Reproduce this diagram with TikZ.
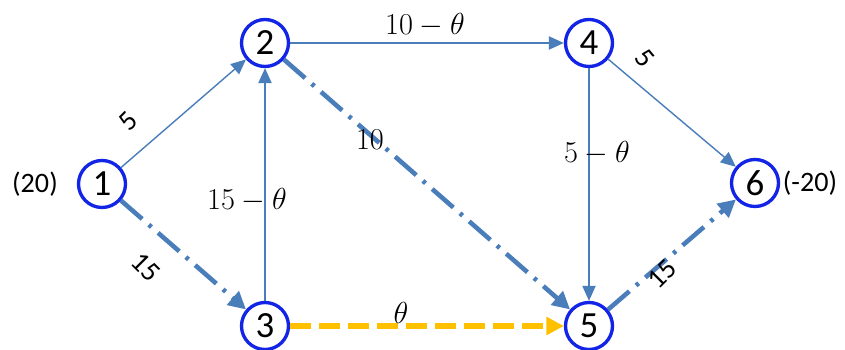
\documentclass[tikz,border=0pt]{standalone}
\usepackage{fontspec}
\setmainfont{Carlito}
\usepackage{xcolor}
\usepackage{tikz}
\usetikzlibrary{arrows.meta}

\definecolor{arcblue}{RGB}{74,126,187}
\definecolor{ringblue}{RGB}{18,36,230}
\definecolor{pivot}{RGB}{255,192,0}

\begin{document}
\begin{tikzpicture}[
  x=0.02cm, y=-0.02cm,
  vertex/.style={circle, draw=ringblue, line width=1.9pt, fill=white,
    minimum size=0.94cm, inner sep=0pt, font=\fontsize{21}{25}\selectfont},
  arc/.style={-{Triangle[length=8.5pt, width=7.5pt]}, line width=0.8pt, draw=arcblue},
  basis/.style={-{Triangle[length=10pt, width=10pt]}, line width=2.6pt, draw=arcblue,
    dash pattern={on 16pt off 5pt on 2pt off 5pt}},
  cycle arc/.style={-{Triangle[length=10pt, width=10pt]}, line width=3.3pt, draw=pivot,
    dash pattern={on 12pt off 4.5pt}},
  supply/.style={font=\fontsize{16}{19}\selectfont},
  flow label/.style={font=\fontsize{16}{19}\selectfont, inner sep=1pt},
  theta label/.style={font=\fontsize{17}{20}\selectfont, inner sep=1pt}
]
\useasboundingbox[fill=white] (0,0) rectangle (845,350);

\node[vertex] (n1) at (102,184) {1};
\node[vertex] (n2) at (265,43) {2};
\node[vertex] (n3) at (265,326) {3};
\node[vertex] (n4) at (589,43) {4};
\node[vertex] (n5) at (589,326) {5};
\node[vertex] (n6) at (755,183) {6};

\node[supply] (s1) at (35,184) {(20)};
\node[supply] (s6) at (810,183) {(-20)};

\draw[arc] (n1) -- (n2);
\draw[basis] (n1) -- (n3);
\draw[arc] (n3) -- (n2);
\draw[arc] (n2) -- (n4);
\draw[basis] (n2) -- (n5);
\draw[arc] (n4) -- (n5);
\draw[arc] (n4) -- (n6);
\draw[basis] (n5) -- (n6);
\draw[cycle arc] (n3) -- (n5);

\node[flow label, rotate=45] (l12) at (128,121) {5};
\node[flow label, rotate=-45] (l13) at (146,267) {15};
\node[theta label] (l32) at (247,200) {$15-\theta$};
\node[theta label] (l24) at (425,25) {$10-\theta$};
\node[theta label] (l25) at (370,140) {$10$};
\node[theta label] (l45) at (597,153) {$5-\theta$};
\node[flow label, rotate=-50] (l46) at (645,58) {5};
\node[flow label, rotate=45] (l56) at (662,274) {15};
\node[theta label] (l35) at (401,313) {$\theta$};
\end{tikzpicture}
\end{document}
